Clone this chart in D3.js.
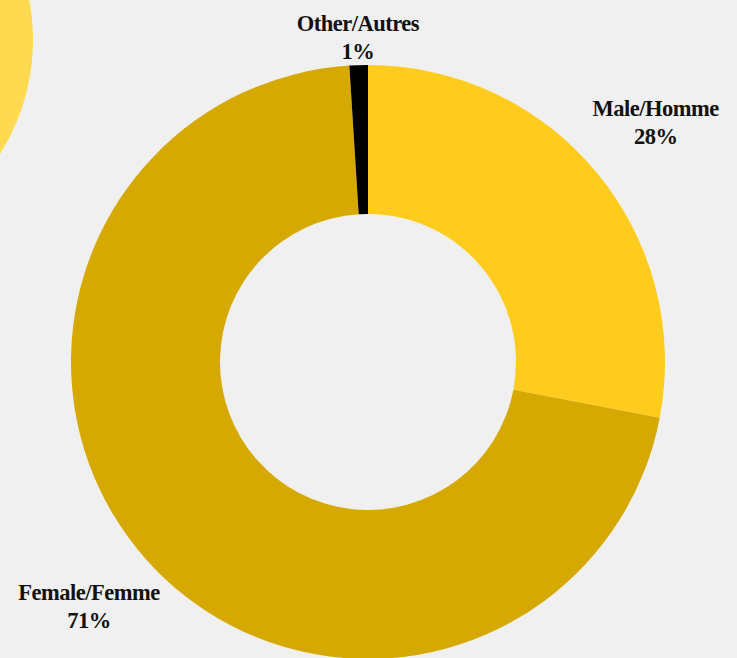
<!DOCTYPE html>
<html><head><meta charset="utf-8">
<script src="https://cdn.jsdelivr.net/npm/d3@7"></script>
<style>html,body{margin:0;padding:0;background:#f0f0f0;overflow:hidden}svg{display:block}</style>
</head><body>
<svg id="chart" width="737" height="658"></svg>
<script>
const categories = ["Male/Homme", "Female/Femme", "Other/Autres"];
const values = [28, 71, 1];
const percentLabels = ["28%", "71%", "1%"];
const colors = ["#ffcc1d", "#d6a900", "#000000"];

const W = 737, H = 658;
const svg = d3.select("#chart");
svg.append("rect").attr("width", W).attr("height", H).attr("fill", "#f0f0f0");
// decorative circle top-left
svg.append("circle").attr("cx", -180).attr("cy", 40).attr("r", 213).attr("fill", "#ffd94f");

const cx = 368, cy = 362, outerR = 297, innerR = 148;
const g = svg.append("g").attr("transform", `translate(${cx},${cy})`);
const pie = d3.pie().value(d => d).sort(null);
const arcs = pie(values);
const arc = d3.arc().innerRadius(innerR).outerRadius(outerR);
g.selectAll("path").data(arcs).join("path")
  .attr("d", arc).attr("fill", (d, i) => colors[i]);

const font = "'Liberation Serif', 'Times New Roman', serif";
arcs.forEach((d, i) => {
  const a = (d.startAngle + d.endAngle) / 2;
  const r = outerR + 24 + 68 * Math.abs(Math.sin(a));
  const x = r * Math.sin(a), y = -r * Math.cos(a);
  const t = g.append("text").attr("text-anchor", "middle")
    .attr("font-family", font).attr("font-weight", "bold").attr("font-size", 22.5)
    .attr("letter-spacing", -0.5).attr("fill", "#111");
  t.append("tspan").attr("x", x).attr("y", y - 8).text(categories[i]);
  t.append("tspan").attr("x", x).attr("y", y + 20).text(percentLabels[i]);
});
</script>
</body></html>
